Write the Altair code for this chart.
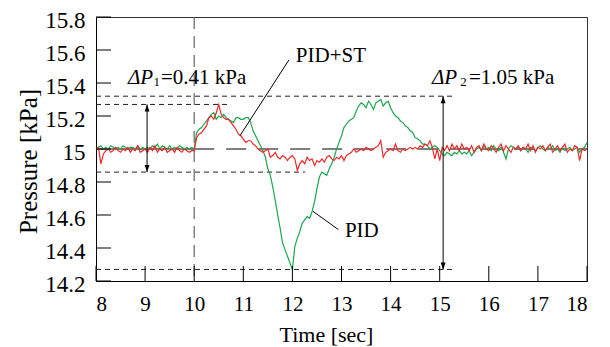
import altair as alt
import pandas as pd

pid_st_8 = [15.00, 15.01, 14.91, 14.97, 14.99, 15.00, 14.98, 14.99, 15.01, 14.99, 14.98, 15.00, 14.99, 15.01, 14.98, 15.00, 14.99, 15.02, 14.98, 14.99]
pid_st_9 = [15.00, 14.98, 15.01, 14.99, 15.02, 14.98, 15.00, 14.99, 15.01, 14.98, 14.99, 15.00, 14.98, 15.01, 14.99, 14.98, 15.00, 14.99, 14.98, 14.99]
pid_st_10 = [14.99, 15.07, 15.09, 15.10, 15.12, 15.14, 15.19, 15.20, 15.18, 15.22, 15.27, 15.21, 15.19, 15.18, 15.18, 15.16, 15.14, 15.12, 15.09, 15.08]
pid_st_11 = [15.06, 15.04, 15.05, 15.05, 15.03, 15.02, 15.00, 14.99, 14.98, 14.99, 15.00, 14.95, 14.96, 14.98, 14.95, 14.94, 14.96, 14.95, 14.93, 14.95]
pid_st_12 = [14.96, 14.94, 14.87, 14.91, 14.93, 14.91, 14.95, 14.93, 14.94, 14.90, 14.93, 14.92, 14.94, 14.92, 14.95, 14.96, 14.94, 14.93, 14.95, 14.94]
pid_st_13 = [14.96, 14.93, 14.96, 14.97, 14.98, 15.00, 14.98, 14.99, 15.00, 14.99, 15.01, 15.00, 14.99, 15.00, 15.01, 15.02, 15.05, 14.95, 14.98, 14.99]
pid_st_14 = [15.00, 14.99, 15.03, 14.99, 14.98, 15.00, 14.99, 15.00, 15.01, 15.00, 15.01, 15.00, 15.02, 15.01, 15.03, 15.02, 15.05, 15.01, 14.94, 15.00]
pid_st_15 = [14.93, 15.01, 14.99, 15.02, 14.99, 15.03, 15.00, 15.02, 14.99, 15.03, 15.00, 15.01, 14.99, 15.02, 14.98, 15.01, 15.02, 14.99, 15.03, 15.00]
pid_st_16 = [14.99, 15.02, 15.00, 14.98, 15.01, 15.03, 14.99, 15.02, 15.00, 14.98, 15.01, 15.00, 15.02, 14.99, 15.01, 15.00, 15.03, 14.99, 15.02, 14.98]
pid_st_17 = [15.01, 15.00, 15.02, 14.99, 15.01, 15.03, 14.98, 15.00, 15.02, 14.99, 15.01, 15.03, 14.98, 15.00, 14.99, 15.02, 15.01, 14.93, 15.00, 14.99]
pid_st_18 = [15.00]

pid_8 = [15.00, 15.01, 15.02, 15.00, 15.01, 15.00, 15.02, 15.01, 15.00, 15.01, 15.00, 15.02, 15.01, 15.00, 15.01, 15.01, 15.00, 15.02, 15.00, 15.01]
pid_9 = [15.00, 15.01, 15.00, 15.02, 15.01, 15.03, 15.00, 15.02, 15.01, 15.00, 15.02, 15.00, 15.01, 15.00, 15.02, 15.01, 15.00, 15.01, 15.00, 15.01]
pid_10 = [15.00, 15.10, 15.12, 15.13, 15.15, 15.17, 15.19, 15.21, 15.22, 15.18, 15.20, 15.19, 15.21, 15.19, 15.18, 15.17, 15.16, 15.19, 15.19, 15.18]
pid_11 = [15.18, 15.19, 15.19, 15.16, 15.11, 15.08, 15.05, 15.02, 14.99, 14.95, 14.88, 14.84, 14.77, 14.69, 14.60, 14.52, 14.43, 14.39, 14.35, 14.31]
pid_12 = [14.27, 14.41, 14.46, 14.50, 14.55, 14.57, 14.59, 14.58, 14.62, 14.68, 14.76, 14.83, 14.86, 14.85, 14.84, 14.88, 14.91, 14.95, 15.00, 15.04]
pid_13 = [15.08, 15.13, 15.15, 15.17, 15.18, 15.19, 15.23, 15.26, 15.28, 15.27, 15.25, 15.29, 15.27, 15.24, 15.28, 15.29, 15.30, 15.26, 15.28, 15.29]
pid_14 = [15.25, 15.22, 15.20, 15.19, 15.17, 15.16, 15.14, 15.13, 15.11, 15.10, 15.07, 15.06, 15.05, 15.03, 15.03, 15.02, 15.00, 15.01, 15.02, 15.01]
pid_15 = [14.99, 14.97, 14.96, 14.98, 14.97, 14.96, 14.98, 14.97, 14.99, 14.97, 14.98, 14.97, 14.99, 14.96, 14.98, 15.00, 15.01, 14.99, 15.02, 15.00]
pid_16 = [15.01, 14.99, 15.02, 15.00, 14.99, 15.01, 14.98, 14.94, 15.00, 15.02, 15.01, 15.00, 15.01, 14.99, 15.01, 15.00, 14.98, 15.01, 15.00, 14.99]
pid_17 = [15.01, 15.02, 15.00, 14.99, 15.01, 15.00, 15.02, 14.99, 15.00, 14.98, 15.01, 14.99, 15.00, 15.01, 14.99, 15.00, 15.01, 14.98, 15.00, 15.01]
pid_18 = [15.04]

pid_st = (pid_st_8 + pid_st_9 + pid_st_10 + pid_st_11 + pid_st_12 + pid_st_13
          + pid_st_14 + pid_st_15 + pid_st_16 + pid_st_17 + pid_st_18)
pid = (pid_8 + pid_9 + pid_10 + pid_11 + pid_12 + pid_13
       + pid_14 + pid_15 + pid_16 + pid_17 + pid_18)
times = [round(8 + 0.05 * i, 2) for i in range(len(pid))]

x_ticks = [8, 9, 10, 11, 12, 13, 14, 15, 16, 17, 18]
y_ticks = [14.2, 14.4, 14.6, 14.8, 15.0, 15.2, 15.4, 15.6, 15.8]

# reference levels (dashed) and their right ends
ref_levels = [15.32, 15.27, 14.86, 14.27]
ref_ends = [15.28, 10.73, 12.26, 15.28]
setpoint = 15.0
step_time = 10
arrow_x = [9.04, 15.07]
arrow_lo = [14.86, 14.27]
arrow_hi = [15.27, 15.32]

FONT = "Liberation Serif"
GREEN = "#1aa84e"
RED = "#f02828"

df = pd.DataFrame({"t": times, "PID": pid, "PID+ST": pid_st})

xs = alt.Scale(domain=[8, 18], nice=False, zero=False)
ys = alt.Scale(domain=[14.2, 15.8], nice=False, zero=False)

xax = alt.Axis(title="Time [sec]", values=x_ticks, format="d", titlePadding=10, titleX=230,
               labelFontSize=21, labelPadding=12, titleFontSize=22)
yax = alt.Axis(title="Pressure [kPa]", values=y_ticks, format="~g", titlePadding=3, titleY=144,
               labelFontSize=23, labelPadding=11, labelOffset=3, titleFontSize=25)


def X(f):
    return alt.X(f"{f}:Q", scale=xs, axis=xax)


def Y(f):
    return alt.Y(f"{f}:Q", scale=ys, axis=yax)


green_line = alt.Chart(df).mark_line(color=GREEN, strokeWidth=1.2).encode(x=X("t"), y=Y("PID"))
red_line = alt.Chart(df).mark_line(color=RED, strokeWidth=1.2).encode(x=X("t"), y=Y("PID+ST"))

df_ref = pd.DataFrame({"y": ref_levels, "x0": [8] * len(ref_levels), "x1": ref_ends})
ref_rules = alt.Chart(df_ref).mark_rule(color="#222", strokeWidth=1, strokeDash=[5, 4]).encode(
    x=X("x0"), x2="x1", y=Y("y"))

df_sp1 = pd.DataFrame({"x0": [8], "x1": [step_time], "y": [setpoint]})
sp_solid = alt.Chart(df_sp1).mark_rule(color="black", strokeWidth=1).encode(x=X("x0"), x2="x1", y=Y("y"))
df_sp2 = pd.DataFrame({"x0": [step_time], "x1": [18], "y": [setpoint]})
sp_dash = alt.Chart(df_sp2).mark_rule(color="black", strokeWidth=1, strokeDash=[20, 12]).encode(
    x=X("x0"), x2="x1", y=Y("y"))

df_v = pd.DataFrame({"x": [step_time]})
v_rule = alt.Chart(df_v).mark_rule(color="#666", strokeWidth=1.2, strokeDash=[12, 7]).encode(x=X("x"))

df_arr = pd.DataFrame({"x": arrow_x, "lo": arrow_lo, "hi": arrow_hi})
arr_rule = alt.Chart(df_arr).mark_rule(color="black", strokeWidth=1).encode(x=X("x"), y=Y("lo"), y2="hi")
arr_up = alt.Chart(df_arr).mark_point(shape="M0,0L-0.35,1L0.35,1Z", filled=True, size=196,
                                      color="black", opacity=1).encode(x=X("x"), y=Y("hi"))
arr_dn = alt.Chart(df_arr).mark_point(shape="M0,0L-0.35,-1L0.35,-1Z", filled=True, size=196,
                                      color="black", opacity=1).encode(x=X("x"), y=Y("lo"))

df_xt = pd.DataFrame({"x": x_ticks})
xt_rules = alt.Chart(df_xt).mark_rule(color="black", strokeWidth=1).encode(
    x=X("x"), y=alt.value(264), y2=alt.value(249))
df_yt = pd.DataFrame({"y": y_ticks})
yt_rules = alt.Chart(df_yt).mark_rule(color="black", strokeWidth=1).encode(
    y=Y("y"), x=alt.value(0), x2=alt.value(15))

df_lead = pd.DataFrame({"x0": [11.93, 12.42], "y0": [15.54, 14.622],
                        "x1": [10.933, 12.935], "y1": [15.081, 14.512]})
leaders = alt.Chart(df_lead).mark_rule(color="black", strokeWidth=1).encode(
    x=X("x0"), y=Y("y0"), x2="x1", y2="y1")

df_lab = pd.DataFrame({"x": [12.07, 13.07], "y": [15.528, 14.465], "txt": ["PID+ST", "PID"]})
labels = alt.Chart(df_lab).mark_text(font=FONT, fontSize=21, align="left", baseline="alphabetic",
                                     color="black").encode(x=X("x"), y=Y("y"), text="txt:N")

df_dp = pd.DataFrame({"x": [8.652, 14.843], "y": [15.395, 15.395], "txt": ["ΔP", "ΔP"]})
dp_it = alt.Chart(df_dp).mark_text(font=FONT, fontSize=21, fontStyle="italic", align="left",
                                   baseline="alphabetic", color="black").encode(x=X("x"), y=Y("y"), text="txt:N")
df_sub = pd.DataFrame({"x": [9.17, 15.42], "y": [15.383, 15.383], "txt": ["1", "2"]})
dp_sub = alt.Chart(df_sub).mark_text(font=FONT, fontSize=13, align="left",
                                     baseline="alphabetic", color="black").encode(x=X("x"), y=Y("y"), text="txt:N")
df_val = pd.DataFrame({"x": [9.324, 15.597], "y": [15.395, 15.395], "txt": ["=0.41 kPa", "=1.05 kPa"]})
dp_val = alt.Chart(df_val).mark_text(font=FONT, fontSize=21, align="left",
                                     baseline="alphabetic", color="black").encode(x=X("x"), y=Y("y"), text="txt:N")

chart = alt.layer(
    v_rule, ref_rules, sp_solid, sp_dash, green_line, red_line, arr_rule, arr_up, arr_dn,
    xt_rules, yt_rules, leaders, labels, dp_it, dp_sub, dp_val
).properties(
    width=491, height=264,
    padding={"left": 88, "top": 9, "right": 15, "bottom": 66},
    autosize=alt.AutoSizeParams(type="none"),
    background="white",
).configure(
    font=FONT
).configure_axis(
    ticks=False, grid=False, domainColor="black", labelColor="black",
    labelFont=FONT, titleFont=FONT, titleFontWeight="normal", titleColor="black",
).configure_view(stroke="#333", strokeWidth=1)

chart.save("out.html", embed_options={"renderer": "svg", "actions": False})
